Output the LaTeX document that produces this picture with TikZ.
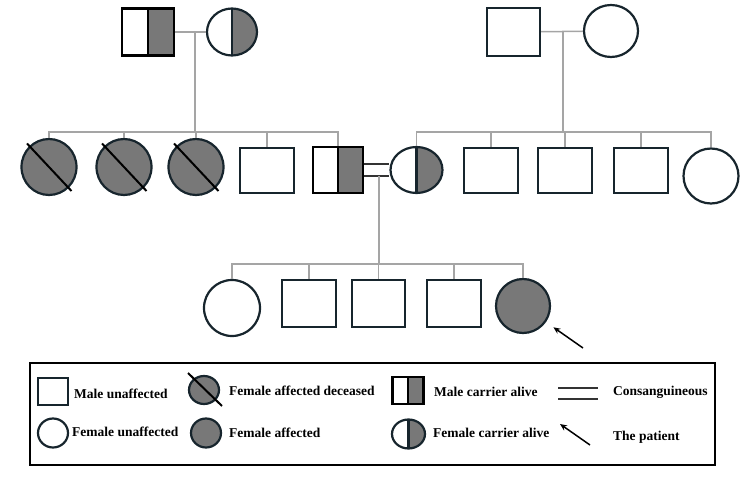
\documentclass[tikz,border=0pt]{standalone}
\usepackage{fontspec}
\setmainfont{Liberation Serif}
\usetikzlibrary{arrows.meta,calc,shapes.geometric}
\definecolor{pedline}{HTML}{17252D}
\definecolor{pedgray}{HTML}{787878}
\definecolor{linkgray}{HTML}{A5A5A5}
\tikzset{
  male/.style={draw=pedline, line width=2.2pt, fill=white, inner sep=0pt,
    minimum width=53pt, minimum height=46pt},
  female/.style={ellipse, draw=pedline, line width=2.2pt, fill=white, inner sep=0pt,
    minimum width=54pt, minimum height=54pt},
  affected/.style={fill=pedgray},
  carrier/.style={path picture={
    \fill[pedgray] (path picture bounding box.north) rectangle (path picture bounding box.south east);
    \draw[draw=#1, line width=2.2pt] (path picture bounding box.north) -- (path picture bounding box.south);}},
  carrier/.default=pedline,
  slash/.style={draw=black, line width=2pt},
  link/.style={draw=linkgray, line width=1.5pt},
  consang/.style={draw=black!80, line width=1.4pt},
  pointer/.style={-{Stealth[length=7pt, width=6pt]}, draw=black, line width=1.5pt},
  legbox/.style={draw=black, line width=2.6pt},
  legtext/.style={font=\bfseries\fontsize{13.5}{16}\selectfont, anchor=west, inner sep=0pt}
}
\begin{document}
\begin{tikzpicture}[x=1pt, y=-1pt]
  \useasboundingbox (0,0) rectangle (750,484);
  % generation I
  \node[male, carrier=black, draw=black, minimum width=52pt, minimum height=47pt] (gf1) at (148,32) {};
  \node[female, carrier, minimum width=50pt, minimum height=47pt] (gm1) at (232,32) {};
  \node[male, minimum height=48pt] (gf2) at (513.5,32) {};
  \node[female, minimum width=54pt, minimum height=52pt] (gm2) at (611,31) {};
  % generation II
  \node[female, affected, minimum width=55pt, minimum height=56pt] (d1) at (49,167) {};
  \node[female, affected, minimum width=55pt, minimum height=56pt] (d2) at (124,167) {};
  \node[female, affected, minimum width=55pt, minimum height=56pt] (d3) at (196,167) {};
  \node[male, minimum width=54pt, minimum height=45pt] (m1) at (267,170.5) {};
  \node[male, carrier=black, draw=black, minimum width=50pt, minimum height=46pt] (cm) at (338,170) {};
  \node[female, carrier, minimum width=52pt, minimum height=46pt] (cf) at (416.5,170) {};
  \node[male, minimum width=54pt, minimum height=45pt] (b1) at (491,170.5) {};
  \node[male, minimum width=54pt, minimum height=45pt] (b2) at (565,170.5) {};
  \node[male, minimum width=54pt, minimum height=45pt] (b3) at (641,170.5) {};
  \node[female, minimum width=55pt, minimum height=55pt] (s4) at (711,176) {};
  % generation III
  \node[female, minimum width=56pt, minimum height=56pt] (c1) at (232,308) {};
  \node[male, minimum width=54pt, minimum height=47pt] (c2) at (309,303.5) {};
  \node[male, minimum width=53pt, minimum height=47pt] (c3) at (378.5,303.5) {};
  \node[male, minimum width=54pt, minimum height=47pt] (c4) at (454,303.5) {};
  \node[female, affected, minimum width=54pt, minimum height=54pt] (pt) at (523,306) {};

  \draw[slash] ($(d1.center)+(-22,-23.5)$) -- ($(d1.center)+(22.5,24)$);
  \draw[slash] ($(d2.center)+(-22,-23.5)$) -- ($(d2.center)+(22.5,24)$);
  \draw[slash] ($(d3.center)+(-22,-23.5)$) -- ($(d3.center)+(22.5,24)$);

  \coordinate (u1) at (195,32);
  \coordinate (s1) at (195,132);
  \coordinate (u2) at (563,32);
  \coordinate (s2) at (563,132);
  \coordinate (u3) at (379,176);
  \coordinate (s3) at (379,264);
  \coordinate (ptarrow) at (583,348);

  \draw[link] (gf1) -- (gm1);
  \draw[link] (u1) -- (s1);
  \draw[link] (d1.north) -- (d1.north |- s1) -- (cm.north |- s1) -- (cm.north);
  \foreach \n in {d2,d3,m1}
    \draw[link] (\n.north) -- (\n.north |- s1);

  \draw[link] (gf2) -- (gm2);
  \draw[link] (u2) -- (s2);
  \draw[link] (cf.north) -- (cf.north |- s2) -- (s4.north |- s2) -- (s4.north);
  \foreach \n in {b1,b2,b3}
    \draw[link] (\n.north) -- (\n.north |- s2);

  \draw[consang] ([yshift=6pt]cm.east) -- ([yshift=6pt]cm.east -| cf.west);
  \draw[consang] ([yshift=-6pt]cm.east) -- ([yshift=-6pt]cm.east -| cf.west);
  \draw[link] (u3) -- (s3);
  \draw[link] (c1.north) -- (c1.north |- s3) -- (pt.north |- s3) -- (pt.north);
  \foreach \n in {c2,c3,c4}
    \draw[link] (\n.north) -- (\n.north |- s3);

  \draw[pointer, shorten >=9pt] (ptarrow) -- (pt);

  % legend
  \node[legbox, minimum width=685pt, minimum height=102pt] (legend) at (372.5,414) {};
  \node[male, minimum width=30pt, minimum height=27pt] (lm) at (53,391.5) {};
  \node[legtext] (lmtext) at (74,394) {Male unaffected};
  \node[female, minimum width=30pt, minimum height=29pt] (lf) at (53,433) {};
  \node[legtext] (lftext) at (72,432) {Female unaffected};
  \node[female, affected, minimum width=30pt, minimum height=28pt] (ld) at (204,390) {};
  \draw[slash] ($(ld.center)+(-16,-17)$) -- ($(ld.center)+(18,16)$);
  \node[legtext] (ldtext) at (229,391) {Female affected deceased};
  \node[female, affected, minimum width=30pt, minimum height=29pt] (la) at (206,433) {};
  \node[legtext] (latext) at (229,433) {Female affected};
  \node[male, carrier=black, draw=black, minimum width=31pt, minimum height=27pt] (lc) at (408,390.5) {};
  \node[legtext] (lctext) at (434,392) {Male carrier alive};
  \node[female, carrier, minimum width=33pt, minimum height=29pt] (lcf) at (408.5,434) {};
  \node[legtext] (lcftext) at (433,433) {Female carrier alive};
  \coordinate (lk1) at (558,388);
  \coordinate (lk2) at (598,388);
  \coordinate (lk3) at (558,399);
  \coordinate (lk4) at (598,399);
  \draw[consang] (lk1) -- (lk2);
  \draw[consang] (lk3) -- (lk4);
  \node[legtext] (lktext) at (613,392) {Consanguineous};
  \coordinate (lp1) at (590,445);
  \coordinate (lp2) at (560,424);
  \draw[pointer] (lp1) -- (lp2);
  \node[legtext] (lptext) at (613,437) {The patient};
\end{tikzpicture}
\end{document}
